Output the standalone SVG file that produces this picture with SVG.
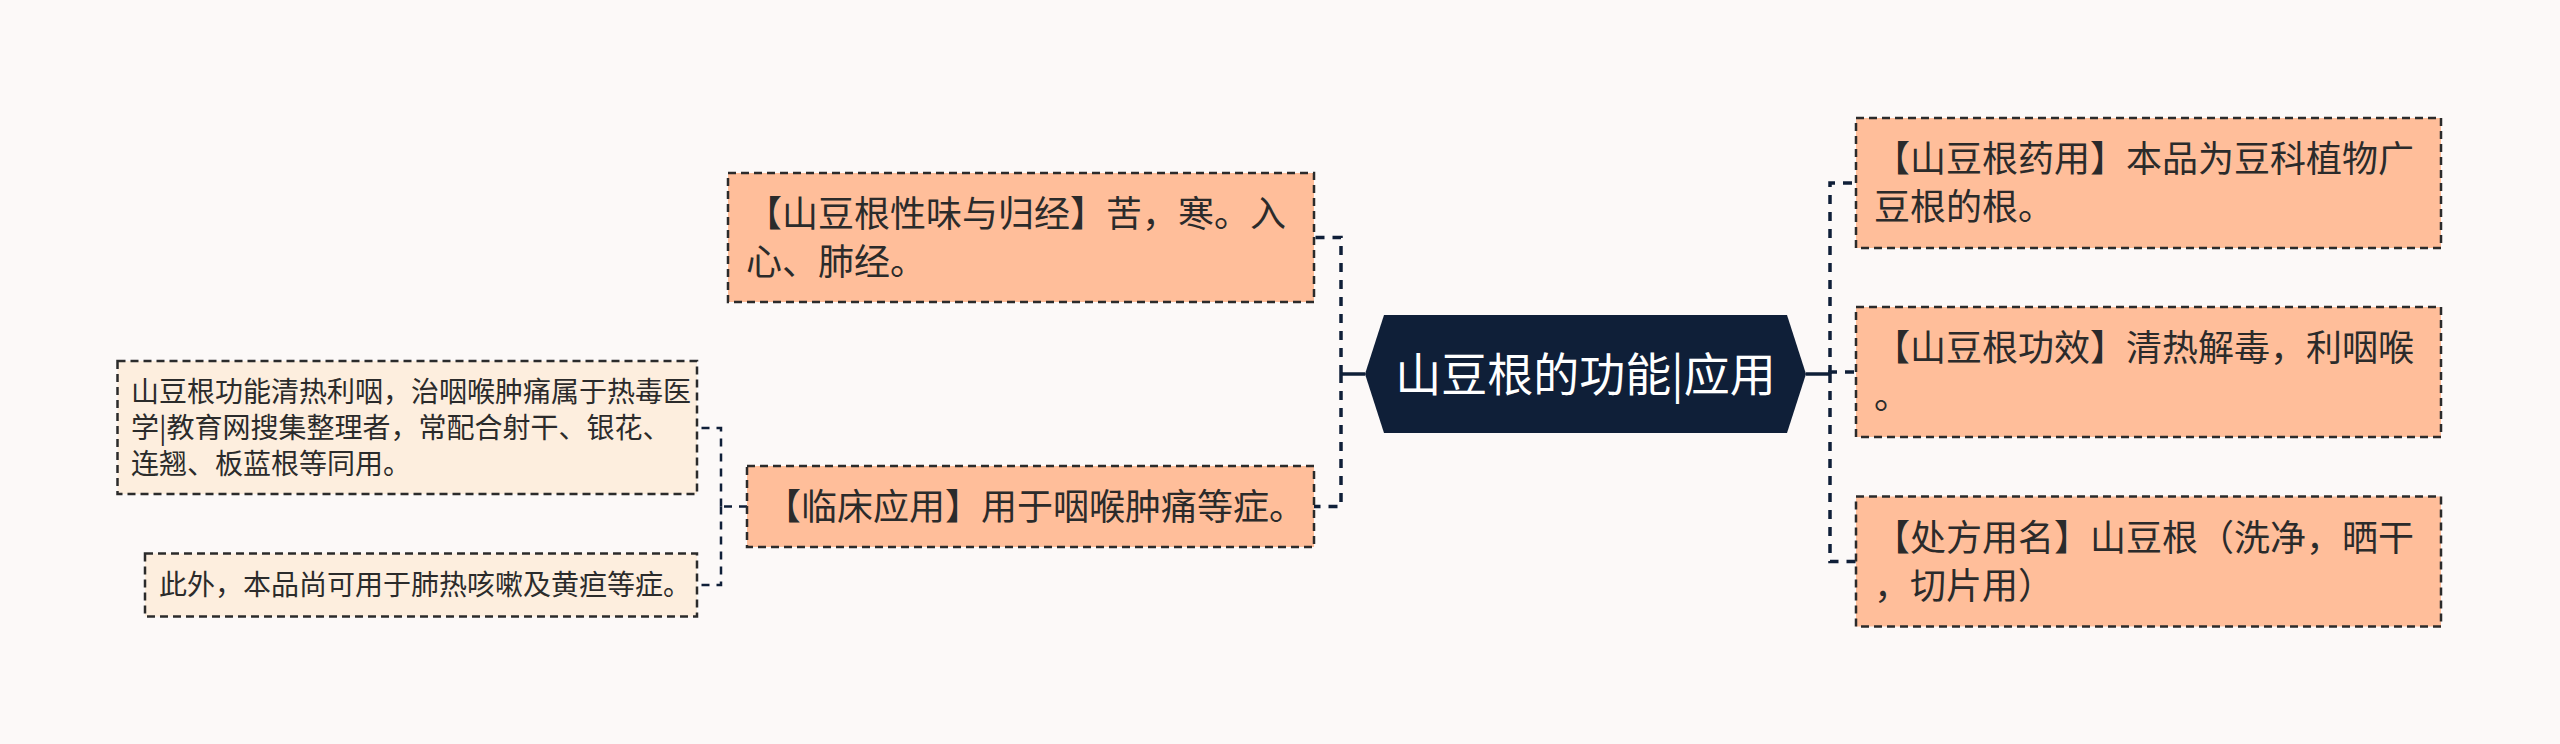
<svg xmlns="http://www.w3.org/2000/svg" width="2560" height="744" viewBox="0 0 2560 744">
<style>
.main{fill:#ffbe9a;stroke:#2b2b2b;stroke-width:2.5;stroke-dasharray:8 5}
.leaf{fill:#fdeede;stroke:#2b2b2b;stroke-width:2.5;stroke-dasharray:8 5}
.t{font-family:"Noto Sans CJK SC","Noto Sans",sans-serif;fill:#2b2b2b}
.tm{font-size:36px}
.tl{font-size:28px}
.tc{font-family:"Noto Sans CJK SC","Noto Sans",sans-serif;font-size:46px;fill:#ffffff}
.c{fill:none;stroke:#0f1f38;stroke-width:3.5;stroke-dasharray:9 8}
.cs{fill:none;stroke:#0f1f38;stroke-width:3.5}
.cl{fill:none;stroke:#0f1f38;stroke-width:2.5;stroke-dasharray:8 7}
</style>
<rect width="2560" height="744" fill="#fcf9f8"/>
<g id="connectors">
<path class="cs" d="M1806,374 H1830"/>
<path class="c" d="M1830,374 V183 H1856"/>
<path class="c" d="M1830,374 V372 H1856"/>
<path class="c" d="M1830,374 V561.5 H1856"/>
<path class="cs" d="M1365,374 H1341"/>
<path class="c" d="M1341,374 V237.5 H1314"/>
<path class="c" d="M1341,374 V506.5 H1314"/>
<path class="cl" d="M747,506.5 H721"/>
<path class="cl" d="M721,506.5 V428 H697"/>
<path class="cl" d="M721,506.5 V585 H697"/>
</g>
<g id="center">
<polygon points="1365,374 1384,315 1787,315 1806,374 1787,433 1384,433" fill="#0f1f38"/>
<text class="tc" x="1585.5" y="391" text-anchor="middle">山豆根的功能|应用</text>
</g>
<g id="r1">
<rect class="main" x="1856" y="118" width="585" height="130"/>
<text class="t tm" x="1874" y="172">【山豆根药用】本品为豆科植物广</text>
<text class="t tm" x="1874" y="220">豆根的根。</text>
</g>
<g id="r2">
<rect class="main" x="1856" y="307" width="585" height="130"/>
<text class="t tm" x="1874" y="361">【山豆根功效】清热解毒，利咽喉</text>
<text class="t tm" x="1874" y="409">。</text>
</g>
<g id="r3">
<rect class="main" x="1856" y="496.5" width="585" height="130"/>
<text class="t tm" x="1874" y="551">【处方用名】山豆根（洗净，晒干</text>
<text class="t tm" x="1874" y="599">，切片用）</text>
</g>
<g id="l1">
<rect class="main" x="728" y="173" width="586" height="129"/>
<text class="t tm" x="746" y="227">【山豆根性味与归经】苦，寒。入</text>
<text class="t tm" x="746" y="275">心、肺经。</text>
</g>
<g id="l2">
<rect class="main" x="747" y="466" width="567" height="81"/>
<text class="t tm" x="765" y="520">【临床应用】用于咽喉肿痛等症。</text>
</g>
<g id="leaf1">
<rect class="leaf" x="117.5" y="361" width="579.5" height="133"/>
<text class="t tl" x="131" y="402">山豆根功能清热利咽，治咽喉肿痛属于热毒医</text>
<text class="t tl" x="131" y="438">学|教育网搜集整理者，常配合射干、银花、</text>
<text class="t tl" x="131" y="474">连翘、板蓝根等同用。</text>
</g>
<g id="leaf2">
<rect class="leaf" x="145" y="553.5" width="552" height="63"/>
<text class="t tl" x="159" y="595">此外，本品尚可用于肺热咳嗽及黄疸等症。</text>
</g>
</svg>
